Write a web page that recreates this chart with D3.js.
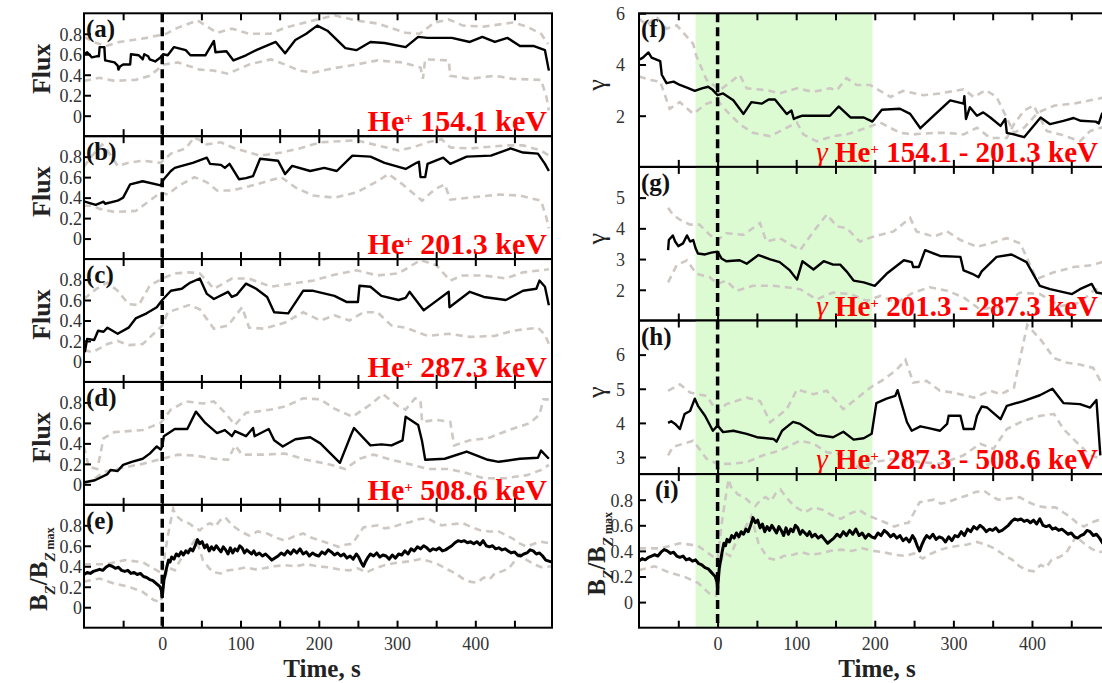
<!DOCTYPE html>
<html><head><meta charset="utf-8">
<script src="https://cdn.jsdelivr.net/npm/d3@7"></script>
<style>body{margin:0;background:#fff}svg{display:block}</style>
</head><body><svg id="c" width="1102" height="683"></svg>
<script>
// ---------- DATA ----------
const xTickLabels = [0, 100, 200, 300, 400];
const xMinorTicks = [-50, 0, 50, 100, 150, 200, 250, 300, 350, 400, 450];
const fluxTicks = [0, 0.2, 0.4, 0.6, 0.8];
const fTicks = [2, 4, 6];
const gTicks = [2, 3, 4, 5];
const hTicks = [3, 4, 5, 6];
const shadeRange = [-28, 197];

const leftLabels = ["154.1", "201.3", "287.3", "508.6"];
const rightLabels = ["154.1 - 201.3", "201.3 - 287.3", "287.3 - 508.6"];
const leftLetters = ["(a)", "(b)", "(c)", "(d)", "(e)"];
const rightLetters = ["(f)", "(g)", "(h)", "(i)"];

const aBlack = [[-99,0.60],[-96,0.62],[-90,0.57],[-84,0.58],[-81,0.58],[-80,0.67],[-74,0.67],[-73,0.54],[-61,0.52],[-57,0.49],[-56,0.45],[-54,0.48],[-50,0.50],[-41,0.50],[-40,0.60],[-30,0.59],[-26,0.56],[-25,0.55],[-23,0.60],[-18,0.58],[-16,0.55],[-9,0.53],[-2,0.57],[1,0.60],[7,0.59],[15,0.67],[30,0.64],[36,0.59],[55,0.59],[66,0.73],[68,0.62],[82,0.63],[91,0.54],[107,0.59],[120,0.64],[145,0.72],[157,0.61],[170,0.74],[184,0.80],[198,0.88],[211,0.83],[234,0.66],[248,0.64],[266,0.72],[284,0.71],[311,0.67],[327,0.77],[339,0.76],[370,0.76],[393,0.72],[409,0.77],[425,0.72],[441,0.76],[457,0.68],[475,0.68],[489,0.64],[494,0.44]];
const aUpper = [[-100,0.77],[-88,0.72],[-72,0.68],[-55,0.72],[-20,0.76],[5,0.80],[20,0.86],[45,0.93],[70,0.81],[89,0.85],[111,0.80],[138,0.80],[157,0.86],[193,0.93],[220,0.98],[248,0.93],[275,0.90],[311,0.81],[329,0.80],[348,0.91],[366,0.94],[384,0.88],[411,0.87],[448,0.91],[466,0.87],[484,0.80],[493,0.70]];
const aLower = [[-100,0.34],[-80,0.37],[-61,0.34],[-34,0.35],[-16,0.39],[2,0.50],[20,0.52],[48,0.45],[66,0.44],[84,0.41],[111,0.50],[139,0.55],[157,0.50],[175,0.44],[193,0.42],[216,0.46],[248,0.50],[275,0.54],[307,0.52],[330,0.47],[333,0.36],[336,0.55],[366,0.54],[368,0.39],[393,0.36],[425,0.39],[448,0.36],[484,0.35],[491,0.18],[494,0.05]];

const bBlack = [[-99,0.36],[-85,0.33],[-75,0.36],[-73,0.34],[-57,0.37],[-50,0.40],[-41,0.53],[-25,0.56],[-2,0.52],[2,0.58],[11,0.66],[16,0.69],[25,0.71],[39,0.74],[57,0.79],[61,0.73],[75,0.72],[80,0.69],[86,0.73],[98,0.58],[107,0.59],[116,0.61],[125,0.78],[148,0.76],[157,0.63],[166,0.71],[189,0.66],[207,0.69],[223,0.66],[243,0.81],[266,0.80],[284,0.74],[311,0.68],[325,0.74],[328,0.75],[330,0.60],[336,0.60],[339,0.73],[359,0.79],[368,0.73],[389,0.80],[420,0.81],[445,0.88],[461,0.84],[480,0.83],[489,0.73],[494,0.66]];
const bUpper = [[-100,0.70],[-92,0.79],[-77,0.92],[-70,0.86],[-57,0.71],[-43,0.74],[-25,0.76],[-2,0.74],[11,0.83],[30,0.88],[41,0.99],[57,0.92],[75,0.94],[93,0.88],[125,0.81],[152,0.84],[175,0.88],[202,0.94],[248,0.96],[275,0.91],[302,0.86],[320,0.89],[339,0.94],[357,0.97],[368,0.89],[393,0.88],[439,0.91],[461,0.91],[484,0.86],[494,0.81]];
const bLower = [[-100,0.32],[-89,0.32],[-80,0.29],[-61,0.26],[-34,0.27],[-16,0.37],[-2,0.45],[7,0.43],[20,0.51],[41,0.60],[57,0.55],[70,0.47],[89,0.47],[111,0.51],[152,0.60],[170,0.50],[193,0.42],[220,0.40],[248,0.45],[275,0.56],[289,0.63],[307,0.53],[332,0.37],[348,0.48],[361,0.53],[368,0.38],[393,0.40],[430,0.43],[457,0.42],[484,0.37],[491,0.20],[494,0.10]];

const cBlack = [[-99,0.09],[-96,0.22],[-87,0.21],[-82,0.30],[-75,0.29],[-70,0.33],[-57,0.27],[-43,0.33],[-34,0.42],[-20,0.47],[-7,0.53],[0,0.60],[11,0.69],[25,0.71],[30,0.74],[36,0.77],[48,0.81],[57,0.66],[66,0.61],[84,0.68],[89,0.63],[95,0.65],[107,0.76],[120,0.71],[134,0.63],[143,0.48],[161,0.47],[180,0.69],[193,0.69],[220,0.64],[236,0.58],[250,0.58],[252,0.74],[266,0.73],[280,0.64],[302,0.60],[311,0.62],[316,0.68],[334,0.50],[343,0.55],[366,0.68],[367,0.53],[393,0.68],[411,0.63],[439,0.60],[461,0.69],[478,0.71],[482,0.79],[489,0.73],[494,0.55]];
const cUpper = [[-100,0.61],[-84,0.71],[-70,0.77],[-57,0.69],[-43,0.56],[-30,0.55],[-16,0.74],[0,0.81],[16,0.86],[34,0.87],[48,0.86],[66,0.71],[89,0.81],[111,0.81],[139,0.73],[166,0.76],[193,0.79],[216,0.84],[248,0.89],[275,0.84],[302,0.86],[330,0.99],[350,0.94],[368,0.79],[384,0.84],[411,0.84],[439,0.81],[461,0.87],[484,0.89],[494,0.90]];
const cLower = [[-100,0.11],[-89,0.09],[-70,0.17],[-57,0.20],[-43,0.16],[-25,0.17],[-11,0.27],[0,0.35],[7,0.48],[34,0.55],[48,0.51],[66,0.32],[84,0.35],[102,0.53],[111,0.33],[130,0.32],[157,0.38],[180,0.48],[202,0.40],[220,0.45],[239,0.40],[257,0.48],[275,0.48],[293,0.35],[311,0.33],[339,0.25],[366,0.27],[393,0.24],[425,0.25],[448,0.30],[480,0.33],[489,0.26],[494,0.17]];

const dBlack = [[-99,0.02],[-86,0.04],[-70,0.10],[-66,0.14],[-57,0.13],[-50,0.19],[-39,0.22],[-25,0.25],[-16,0.30],[-7,0.37],[-2,0.34],[0,0.37],[2,0.47],[16,0.54],[32,0.54],[43,0.71],[55,0.60],[70,0.50],[80,0.53],[89,0.47],[93,0.52],[107,0.47],[116,0.55],[118,0.47],[136,0.54],[143,0.43],[154,0.37],[170,0.44],[189,0.46],[202,0.40],[227,0.21],[241,0.48],[245,0.55],[266,0.38],[280,0.39],[293,0.38],[307,0.43],[311,0.66],[327,0.58],[332,0.42],[336,0.24],[361,0.25],[389,0.32],[416,0.24],[430,0.22],[457,0.25],[480,0.26],[484,0.33],[494,0.25]];
const dUpper = [[-100,0.37],[-94,0.17],[-83,0.15],[-75,0.45],[-61,0.51],[-25,0.53],[-2,0.60],[11,0.73],[30,0.81],[52,0.79],[66,0.81],[80,0.70],[93,0.58],[107,0.70],[120,0.71],[139,0.73],[157,0.76],[180,0.84],[202,0.83],[220,0.74],[243,0.66],[266,0.78],[282,0.88],[302,0.76],[311,0.73],[323,0.84],[330,0.82],[332,0.61],[350,0.63],[368,0.61],[373,0.38],[393,0.43],[416,0.45],[443,0.53],[470,0.60],[482,0.68],[487,0.83],[494,0.83]];
const dLower = [[-100,0.01],[-89,0.04],[-75,0.12],[-52,0.16],[-25,0.20],[0,0.25],[20,0.29],[43,0.28],[66,0.25],[84,0.24],[93,0.38],[102,0.29],[130,0.29],[157,0.30],[184,0.24],[211,0.20],[234,0.15],[252,0.25],[270,0.29],[293,0.24],[320,0.19],[339,0.15],[366,0.15],[384,0.12],[411,0.06],[439,0.06],[466,0.09],[484,0.14],[494,0.19]];

const bzBlack = [[-100,0.32],[-96,0.34],[-92,0.33],[-88,0.35],[-84,0.36],[-80,0.37],[-76,0.36],[-72,0.39],[-68,0.41],[-64,0.40],[-60,0.38],[-56,0.39],[-52,0.36],[-48,0.35],[-44,0.36],[-40,0.33],[-36,0.34],[-32,0.32],[-28,0.33],[-24,0.30],[-20,0.29],[-16,0.27],[-12,0.26],[-9,0.24],[-6,0.22],[-3,0.20],[-1,0.16],[0,0.10],[1,0.18],[2,0.26],[4,0.33],[6,0.40],[8,0.46],[10,0.44],[12,0.49],[15,0.47],[18,0.52],[21,0.50],[24,0.54],[27,0.51],[30,0.55],[33,0.53],[36,0.57],[39,0.55],[42,0.60],[45,0.66],[48,0.62],[51,0.64],[54,0.58],[57,0.61],[60,0.55],[63,0.59],[66,0.56],[69,0.60],[72,0.57],[75,0.54],[78,0.59],[81,0.56],[84,0.52],[87,0.58],[90,0.53],[93,0.57],[96,0.55],[99,0.60],[102,0.58],[105,0.53],[108,0.56],[111,0.54],[114,0.52],[117,0.55],[120,0.51],[124,0.53],[128,0.50],[132,0.52],[136,0.49],[140,0.46],[144,0.48],[148,0.50],[152,0.53],[156,0.51],[160,0.55],[164,0.52],[168,0.56],[172,0.53],[176,0.57],[180,0.52],[184,0.54],[188,0.50],[192,0.53],[196,0.51],[200,0.50],[204,0.54],[208,0.52],[212,0.56],[216,0.54],[220,0.51],[224,0.53],[228,0.50],[232,0.52],[236,0.48],[240,0.50],[244,0.47],[248,0.52],[251,0.49],[254,0.44],[257,0.40],[260,0.45],[263,0.49],[266,0.52],[270,0.50],[274,0.53],[278,0.49],[282,0.51],[286,0.50],[290,0.47],[294,0.51],[298,0.48],[302,0.52],[306,0.51],[310,0.55],[314,0.52],[318,0.57],[322,0.55],[326,0.59],[330,0.57],[334,0.60],[338,0.58],[342,0.55],[346,0.57],[350,0.56],[354,0.58],[358,0.55],[362,0.56],[366,0.58],[370,0.60],[374,0.63],[378,0.65],[382,0.64],[386,0.65],[390,0.63],[394,0.64],[398,0.62],[402,0.64],[406,0.61],[410,0.65],[414,0.60],[418,0.59],[422,0.60],[426,0.57],[430,0.58],[434,0.56],[438,0.57],[442,0.55],[446,0.53],[450,0.54],[454,0.51],[458,0.50],[462,0.52],[466,0.53],[470,0.56],[474,0.55],[478,0.52],[482,0.53],[486,0.50],[490,0.46],[494,0.45],[498,0.44]];
const bzUpper = [[-100,0.42],[-72,0.42],[-48,0.46],[-25,0.44],[-7,0.36],[0,0.33],[4,0.55],[7,0.69],[11,0.85],[14,0.96],[17,0.90],[20,0.88],[26,0.84],[34,0.82],[41,0.78],[48,0.75],[55,0.80],[61,0.82],[68,0.79],[74,0.85],[80,0.88],[86,0.83],[93,0.78],[100,0.74],[111,0.70],[122,0.74],[134,0.72],[145,0.68],[157,0.65],[168,0.69],[180,0.72],[190,0.68],[202,0.65],[214,0.62],[225,0.59],[234,0.61],[243,0.62],[250,0.70],[257,0.78],[266,0.79],[275,0.80],[284,0.77],[293,0.78],[305,0.81],[316,0.83],[328,0.86],[339,0.87],[348,0.83],[357,0.80],[370,0.81],[384,0.82],[396,0.78],[407,0.75],[418,0.74],[430,0.74],[440,0.70],[448,0.67],[457,0.62],[466,0.59],[475,0.62],[484,0.64],[498,0.62]];
const bzLower = [[-100,0.25],[-80,0.28],[-61,0.23],[-43,0.20],[-25,0.15],[-11,0.07],[-2,0.05],[2,0.23],[7,0.39],[16,0.36],[25,0.49],[34,0.57],[43,0.67],[52,0.46],[60,0.38],[66,0.34],[75,0.33],[84,0.36],[96,0.37],[107,0.39],[118,0.37],[130,0.38],[143,0.40],[157,0.41],[170,0.40],[184,0.42],[198,0.40],[211,0.39],[225,0.37],[239,0.36],[250,0.38],[261,0.34],[272,0.38],[284,0.41],[296,0.43],[307,0.44],[318,0.45],[330,0.47],[341,0.45],[352,0.42],[364,0.37],[375,0.33],[384,0.28],[393,0.25],[402,0.24],[411,0.29],[418,0.27],[425,0.33],[434,0.35],[443,0.38],[450,0.45],[457,0.52],[462,0.48],[466,0.46],[475,0.42],[484,0.39],[498,0.40]];

const fBlack = [[-99,4.2],[-95,4.27],[-88,4.47],[-84,4.27],[-73,4.13],[-71,3.6],[-65,3.27],[-56,3.33],[-48,3.2],[-39,3.1],[-29,2.97],[-20,3.07],[-12,3.13],[-6,3.0],[0,2.8],[7,2.87],[20,2.6],[33,2.07],[43,2.53],[56,2.47],[65,2.63],[73,2.63],[88,2.07],[94,2.2],[97,1.87],[101,1.93],[108,2.0],[122,2.0],[143,2.0],[154,2.36],[169,1.93],[186,1.93],[197,1.77],[209,2.23],[232,2.27],[245,2.07],[258,1.51],[275,2.0],[296,2.6],[313,2.47],[314,2.76],[316,1.87],[321,2.33],[330,2.0],[338,2.13],[347,1.93],[360,1.6],[366,1.87],[368,1.33],[377,1.27],[390,1.16],[411,1.93],[423,1.67],[440,1.8],[453,1.91],[462,1.8],[481,1.77],[485,1.7],[489,2.07],[495,2.3]];
const fUpper = [[-100,5.8],[-90,5.53],[-78,5.87],[-65,5.4],[-52,5.53],[-31,4.8],[-27,4.33],[-14,3.4],[3,3.0],[20,3.4],[28,3.6],[37,3.07],[62,3.0],[79,2.87],[101,3.07],[122,2.93],[143,3.07],[152,3.0],[164,3.47],[177,3.2],[194,3.2],[220,2.73],[236,2.97],[262,2.8],[283,2.87],[313,3.03],[326,2.73],[341,3.0],[355,2.73],[377,1.33],[390,1.53],[408,2.13],[429,2.4],[453,2.47],[474,2.6],[495,2.73]];
const fLower = [[-100,3.53],[-86,3.4],[-73,3.33],[-61,2.27],[-48,2.53],[-31,2.07],[-14,2.47],[0,2.6],[11,2.2],[28,1.67],[45,1.33],[67,1.2],[88,1.53],[101,1.73],[109,1.27],[126,1.0],[147,1.2],[164,1.27],[190,1.53],[207,1.73],[232,1.33],[249,1.27],[275,1.33],[292,1.33],[313,1.27],[330,1.53],[347,1.13],[368,1.13],[377,1.67],[390,2.2],[402,2.4],[419,1.4],[436,1.27],[461,1.0],[474,1.4],[495,1.6]];

const gBlack = [[-63,3.29],[-62,3.62],[-57,3.77],[-54,3.57],[-50,3.42],[-44,3.51],[-39,3.77],[-35,3.57],[-31,3.62],[-28,3.35],[-25,3.18],[-16,3.15],[-8,3.21],[0,3.24],[5,3.02],[11,2.93],[28,2.96],[37,2.85],[52,3.13],[67,2.99],[79,2.9],[92,2.63],[101,2.33],[108,2.93],[122,2.66],[135,2.93],[147,2.82],[156,2.82],[164,2.6],[173,2.3],[186,2.24],[200,2.13],[215,2.52],[237,2.96],[247,2.9],[249,2.74],[256,2.74],[264,3.29],[283,3.1],[309,3.07],[313,2.63],[324,2.52],[332,2.41],[336,2.6],[355,3.07],[374,3.15],[393,2.9],[410,2.13],[423,2.02],[451,1.86],[461,2.02],[476,2.19],[482,1.91],[495,1.85]];
const gUpper = [[-63,4.67],[-57,4.45],[-48,4.28],[-35,4.12],[-23,4.12],[-10,3.79],[0,3.62],[11,3.84],[33,3.79],[54,4.17],[62,3.57],[79,3.68],[105,3.29],[122,3.9],[139,4.45],[152,4.06],[164,4.01],[181,3.57],[198,3.73],[224,3.9],[245,4.34],[253,3.9],[275,3.73],[292,3.9],[309,3.62],[330,3.4],[347,3.51],[368,3.68],[385,3.51],[406,2.35],[428,2.57],[453,2.74],[476,2.8],[495,2.95]];
const gLower = [[-63,2.24],[-52,2.8],[-39,2.96],[-27,2.52],[-10,2.41],[0,2.19],[11,2.3],[24,1.97],[45,2.13],[71,2.13],[88,2.08],[105,2.02],[126,1.69],[147,1.91],[169,1.86],[190,1.64],[207,1.8],[228,1.58],[249,1.91],[270,2.08],[292,1.97],[313,1.75],[334,1.36],[360,1.47],[385,1.91],[410,1.86],[436,1.47],[461,1.58],[478,1.97],[495,2.13]];

const hBlack = [[-63,4.0],[-59,4.05],[-54,3.97],[-48,3.82],[-42,4.26],[-35,4.35],[-29,4.71],[-25,4.5],[-16,4.21],[-6,3.77],[0,3.92],[7,3.73],[20,3.77],[37,3.68],[50,3.58],[71,3.53],[75,3.45],[82,3.77],[90,3.92],[96,4.03],[105,3.97],[126,3.65],[147,3.58],[160,3.74],[173,3.51],[186,3.55],[196,3.68],[202,4.58],[215,4.71],[226,4.79],[229,4.96],[241,4.02],[247,3.77],[258,3.9],[270,3.84],[283,3.77],[292,3.97],[294,4.21],[309,4.21],[313,3.82],[326,3.82],[330,4.21],[336,4.48],[343,4.45],[360,4.11],[368,4.5],[389,4.64],[410,4.81],[426,5.0],[440,4.58],[461,4.55],[474,4.45],[482,4.67],[487,3.05]];
const hUpper = [[-63,4.94],[-48,5.13],[-35,4.89],[-14,4.79],[0,4.31],[11,4.55],[37,4.74],[54,4.64],[67,4.02],[88,4.4],[101,4.98],[122,4.84],[139,4.94],[160,4.4],[181,4.79],[194,5.03],[211,5.27],[228,5.56],[239,5.85],[249,5.18],[266,5.23],[283,4.94],[300,4.89],[326,4.74],[347,4.94],[360,4.84],[377,5.03],[394,6.87],[411,6.44],[428,5.9],[445,5.76],[461,5.71],[478,5.61],[495,4.9]];
const hLower = [[-63,3.05],[-57,3.29],[-44,3.39],[-31,3.48],[-14,2.95],[0,2.8],[16,2.8],[37,2.85],[58,3.05],[79,3.19],[105,3.48],[122,3.39],[139,3.14],[164,3.05],[181,2.66],[198,2.85],[228,2.95],[258,2.85],[283,2.8],[313,3.05],[334,3.39],[351,3.24],[368,3.82],[389,4.06],[411,4.21],[428,4.26],[440,3.82],[457,3.43],[474,3.05],[495,2.9]];

// ---------- LAYOUT ----------
const svg = d3.select("#c");
const FONT = "'Liberation Serif','Times New Roman',serif";
const GRAY = "#cdc8c3";
const xDomain = [-100, 498];
const xL = d3.scaleLinear().domain(xDomain).range([84, 552]);
const xR = d3.scaleLinear().domain(xDomain).range([639, 1109]);
const top0 = 13.3, bottom0 = 627.7;
const hL = (bottom0 - top0) / 5, hR = (bottom0 - top0) / 4;

const panels = [
  {x: xL, row: 0, h: hL, col: "L", dom: [-0.2, 1.0], ticks: fluxTicks, pad: 2, black: aBlack, up: aUpper, lo: aLower, letter: leftLetters[0], lab: leftLabels[0], ylab: "flux"},
  {x: xL, row: 1, h: hL, col: "L", dom: [-0.2, 1.0], ticks: fluxTicks, pad: 2, black: bBlack, up: bUpper, lo: bLower, letter: leftLetters[1], lab: leftLabels[1], ylab: "flux"},
  {x: xL, row: 2, h: hL, col: "L", dom: [-0.2, 1.0], ticks: fluxTicks, pad: 2, black: cBlack, up: cUpper, lo: cLower, letter: leftLetters[2], lab: leftLabels[2], ylab: "flux"},
  {x: xL, row: 3, h: hL, col: "L", dom: [-0.2, 1.0], ticks: fluxTicks, pad: 2, black: dBlack, up: dUpper, lo: dLower, letter: leftLetters[3], lab: leftLabels[3], ylab: "flux"},
  {x: xL, row: 4, h: hL, col: "L", dom: [-0.2, 1.0], ticks: fluxTicks, pad: 2, black: bzBlack, up: bzUpper, lo: bzLower, letter: leftLetters[4], lab: null, ylab: "bz", last: true, noisy: true},
  {x: xR, row: 0, h: hR, col: "R", dom: [0, 6], ticks: fTicks, pad: 14, black: fBlack, up: fUpper, lo: fLower, letter: rightLetters[0], lab: rightLabels[0], ylab: "gamma", shade: true},
  {x: xR, row: 1, h: hR, col: "R", dom: [1, 6], ticks: gTicks, pad: 14, black: gBlack, up: gUpper, lo: gLower, letter: rightLetters[1], lab: rightLabels[1], ylab: "gamma", shade: true},
  {x: xR, row: 2, h: hR, col: "R", dom: [2.5, 7], ticks: hTicks, pad: 14, black: hBlack, up: hUpper, lo: hLower, letter: rightLetters[2], lab: rightLabels[2], ylab: "gamma", shade: true},
  {x: xR, row: 3, h: hR, col: "R", dom: [-0.2, 1.0], ticks: fluxTicks, pad: 6, black: bzBlack, up: bzUpper, lo: bzLower, letter: rightLetters[3], lab: null, ylab: "bz", last: true, noisy: true, shade: true}
];

const defs = svg.append("defs");

panels.forEach((p, i) => {
  const top = top0 + p.row * p.h, bot = top + p.h;
  const x = p.x;
  const x0 = x.range()[0], xr = x.range()[1];
  const y = d3.scaleLinear().domain(p.dom).range([bot, top]);
  const g = svg.append("g");
  const cid = "clip" + i;
  defs.append("clipPath").attr("id", cid).append("rect")
    .attr("x", x0).attr("y", top).attr("width", xr - x0).attr("height", p.h);
  const body = g.append("g").attr("clip-path", `url(#${cid})`);

  if (p.shade) {
    body.append("rect").attr("x", x(shadeRange[0])).attr("y", top)
      .attr("width", x(shadeRange[1]) - x(shadeRange[0])).attr("height", p.h)
      .attr("fill", "#dcfbd2");
  }
  const line = d3.line().x(d => x(d[0])).y(d => y(d[1]));
  [p.up, p.lo].forEach(s => {
    body.append("path").attr("d", line(s)).attr("fill", "none")
      .attr("stroke", GRAY).attr("stroke-width", 2.6).attr("stroke-dasharray", "7,5");
  });
  body.append("path").attr("d", line(p.black)).attr("fill", "none")
    .attr("stroke", "#000").attr("stroke-width", p.noisy ? 3 : 2.4).attr("stroke-linejoin", "round");
  body.append("line").attr("x1", x(0)).attr("x2", x(0)).attr("y1", top).attr("y2", bot)
    .attr("stroke", "#000").attr("stroke-width", 3.5).attr("stroke-dasharray", "9,5");

  g.append("rect").attr("x", x0).attr("y", top).attr("width", xr - x0).attr("height", p.h)
    .attr("fill", "none").attr("stroke", "#000").attr("stroke-width", 2);

  const axB = g.append("g").attr("transform", `translate(0,${bot})`)
    .call(d3.axisBottom(x).tickValues(xMinorTicks).tickSizeInner(-7).tickSizeOuter(0).tickPadding(10)
      .tickFormat(d => (p.last && xTickLabels.includes(d)) ? d : ""));
  const axT = g.append("g").attr("transform", `translate(0,${top})`)
    .call(d3.axisTop(x).tickValues(xMinorTicks).tickSizeInner(-7).tickSizeOuter(0).tickFormat(""));
  const axY = g.append("g").attr("transform", `translate(${x0},0)`)
    .call(d3.axisLeft(y).tickValues(p.ticks).tickSizeInner(-7).tickSizeOuter(0).tickPadding(p.pad)
      .tickFormat(d => d === 0 ? "0" : (p.dom[1] <= 1 ? d3.format(".1f")(d) : d)));
  [axB, axT, axY].forEach(a => {
    a.select(".domain").remove();
    a.selectAll("line").attr("stroke", "#000").attr("stroke-width", 2);
    a.selectAll("text").attr("font-family", FONT).attr("font-size", 18).attr("fill", "#333");
  });
  axY.selectAll("text").attr("dy", "0.35em");

  const lx = p.letter === "(i)" ? x0 + 16 : x0 + 2;
  g.append("text").attr("x", lx).attr("y", top + 24).text(p.letter)
    .attr("font-family", FONT).attr("font-weight", "bold").attr("font-size", 25).attr("fill", "#111");

  if (p.lab) {
    const t = g.append("text").attr("text-anchor", "end")
      .attr("x", p.col === "L" ? xr - 5 : 1098).attr("y", bot - 5)
      .attr("font-family", FONT).attr("font-weight", "bold").attr("font-size", p.col === "L" ? 30 : 29).attr("fill", "#ff0000");
    if (p.col === "R") {
      t.append("tspan").attr("font-style", "italic").attr("font-weight", "normal").text("\u03b3 ");
    }
    t.append("tspan").text("He");
    t.append("tspan").attr("baseline-shift", "super").attr("font-size", 15).text("+");
    t.append("tspan").text(" " + p.lab + " keV");
  }

  const cy = (top + bot) / 2;
  if (p.ylab === "flux") {
    g.append("text").attr("transform", `translate(${50},${cy - 6}) rotate(-90)`).attr("text-anchor", "middle")
      .attr("font-family", FONT).attr("font-weight", "bold").attr("font-size", 26).attr("fill", "#222").text("Flux");
  } else if (p.ylab === "gamma") {
    g.append("text").attr("transform", `translate(${x0 - 34},${cy - 5}) rotate(-90)`).attr("text-anchor", "middle")
      .attr("font-family", FONT).attr("font-size", 26).attr("fill", "#222").text("\u03b3");
  } else {
    const lxp = p.col === "L" ? 47 : x0 - 34;
    const t = g.append("text").attr("transform", `translate(${lxp},${cy + 3}) rotate(-90)`).attr("text-anchor", "middle")
      .attr("font-family", FONT).attr("font-weight", "bold").attr("font-size", 25).attr("fill", "#222");
    t.append("tspan").text("B");
    t.append("tspan").attr("baseline-shift", "sub").attr("font-size", 15).attr("font-style", "italic").text("Z");
    t.append("tspan").text("/B");
    t.append("tspan").attr("baseline-shift", "sub").attr("font-size", 15).attr("font-style", "italic").text("Z");
    t.append("tspan").attr("baseline-shift", "sub").attr("font-size", 12).text(" max");
  }

  if (p.last) {
    g.append("text").attr("x", p.col === "L" ? 322 : 877).attr("y", 677)
      .attr("text-anchor", "middle").attr("font-family", FONT).attr("font-weight", "bold")
      .attr("font-size", 25).attr("fill", "#222").text("Time, s");
  }
});
</script></body></html>
